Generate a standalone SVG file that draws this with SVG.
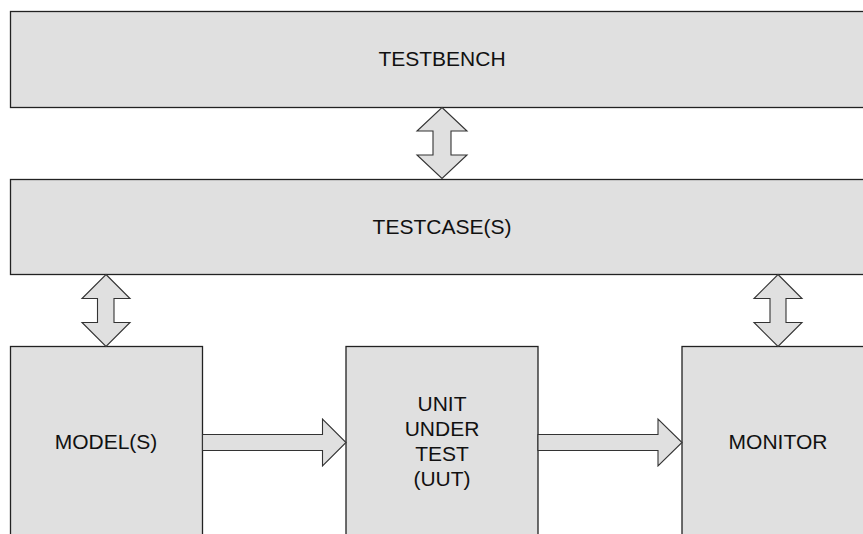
<svg xmlns="http://www.w3.org/2000/svg" width="863" height="534" viewBox="0 0 863 534">
<style>
.box{fill:#e0e0e0;stroke:#222;stroke-width:1.3}
.arr{fill:#e0e0e0;stroke:#333;stroke-width:1.1;stroke-linejoin:miter}
text{font-family:"Liberation Sans",Arial,sans-serif;font-size:21px;fill:#111;text-anchor:middle}
</style>
<rect width="863" height="534" fill="#ffffff"/>
<g id="testbench">
<rect class="box" x="10.5" y="11.5" width="864" height="96"/>
<text x="442" y="66">TESTBENCH</text>
</g>
<g id="testcases">
<rect class="box" x="10.5" y="179.5" width="864" height="95"/>
<text x="442" y="234">TESTCASE(S)</text>
</g>
<g id="models">
<rect class="box" x="10.5" y="346.5" width="192" height="200"/>
<text x="106" y="449">MODEL(S)</text>
</g>
<g id="uut">
<rect class="box" x="346" y="346.5" width="192" height="200"/>
<text x="442" y="411">UNIT</text>
<text x="442" y="436">UNDER</text>
<text x="442" y="461">TEST</text>
<text x="442" y="486">(UUT)</text>
</g>
<g id="monitor">
<rect class="box" x="682" y="346.5" width="192" height="200"/>
<text x="778" y="449">MONITOR</text>
</g>
<g id="connectors">
<polygon class="arr" points="442,107.5 467,131 451,131 451,155 467,155 442,178.5 417,155 433,155 433,131 417,131"/>
<polygon class="arr" points="106,274.5 130,298.5 114,298.5 114,322.5 130,322.5 106,346.5 82,322.5 97.5,322.5 97.5,298.5 82,298.5"/>
<polygon class="arr" points="778,274.5 802,298.5 786,298.5 786,322.5 802,322.5 778,346.5 754,322.5 770,322.5 770,298.5 754,298.5"/>
<polygon class="arr" points="202.5,434.5 322.5,434.5 322.5,419 346,442.5 322.5,466 322.5,450.5 202.5,450.5"/>
<polygon class="arr" points="538,434.5 658,434.5 658,419 682,442.5 658,466 658,450.5 538,450.5"/>
</g>
</svg>
